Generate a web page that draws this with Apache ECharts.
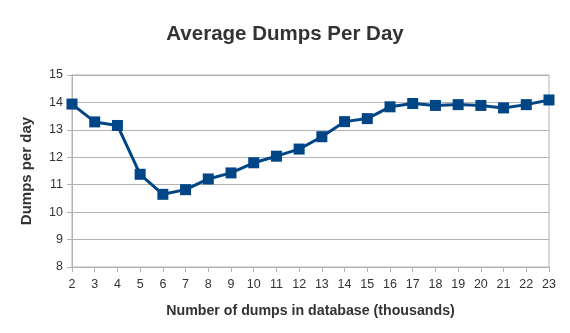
<!DOCTYPE html>
<html>
<head>
<meta charset="utf-8">
<script src="https://cdn.jsdelivr.net/npm/echarts@6/dist/echarts.min.js"></script>
<style>
  html, body { margin: 0; padding: 0; background: #ffffff; }
  #chart { width: 570px; height: 333px; }
</style>
</head>
<body>
<div id="chart"></div>
<script>
// Number of dumps in database (thousands)
const categories = ['2','3','4','5','6','7','8','9','10','11','12','13','14','15','16','17','18','19','20','21','22','23'];
// Average dumps per day at each database size
const dumpsPerDay = [13.94, 13.29, 13.16, 11.38, 10.65, 10.82, 11.21, 11.43, 11.80, 12.04, 12.30, 12.75, 13.30, 13.41, 13.84, 13.96, 13.89, 13.92, 13.89, 13.80, 13.92, 14.09];
const yTicks = [8, 9, 10, 11, 12, 13, 14, 15];

const chart = echarts.init(document.getElementById('chart'));
const font = '"Liberation Sans", Arial, sans-serif';
const gridColor = '#b3b3b3';

chart.setOption({
  backgroundColor: '#ffffff',
  animation: false,
  title: {
    text: 'Average Dumps Per Day',
    left: 'center',
    top: 19,
    textStyle: { fontFamily: font, fontSize: 20.5, fontWeight: 'bold', color: '#333333' }
  },
  grid: { left: 72, right: 21, top: 75, bottom: 66, show: true, borderColor: gridColor, borderWidth: 1 },
  xAxis: {
    type: 'category',
    data: categories,
    boundaryGap: false,
    name: 'Number of dumps in database (thousands)',
    nameLocation: 'middle',
    nameGap: 37,
    nameTextStyle: { fontFamily: font, fontSize: 14.2, fontWeight: 'bold', color: '#333333' },
    axisLine: { lineStyle: { color: gridColor } },
    axisTick: { alignWithLabel: true, length: 5, lineStyle: { color: gridColor } },
    axisLabel: { fontFamily: font, fontSize: 12.5, color: '#333333', margin: 11, interval: 0 },
    splitLine: { show: false }
  },
  yAxis: {
    type: 'value',
    min: yTicks[0],
    max: yTicks[yTicks.length - 1],
    interval: 1,
    name: 'Dumps per day',
    nameLocation: 'middle',
    nameGap: 38,
    nameTextStyle: { fontFamily: font, fontSize: 15, fontWeight: 'bold', color: '#333333' },
    axisLine: { show: true, lineStyle: { color: gridColor } },
    axisTick: { show: true, length: 5, lineStyle: { color: gridColor } },
    axisLabel: { fontFamily: font, fontSize: 12.5, color: '#333333', margin: 9 },
    splitLine: { show: true, lineStyle: { color: gridColor, width: 1 } }
  },
  series: [{
    type: 'line',
    data: dumpsPerDay,
    symbol: 'rect',
    symbolSize: 11,
    lineStyle: { color: '#004586', width: 3 },
    itemStyle: { color: '#004586' },
    z: 3
  }]
});
</script>
</body>
</html>
